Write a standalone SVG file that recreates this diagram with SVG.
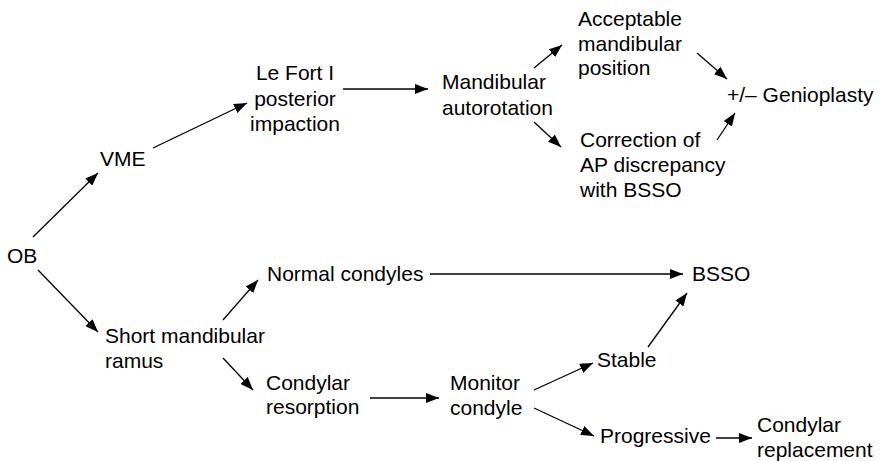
<svg xmlns="http://www.w3.org/2000/svg" width="880" height="461" viewBox="0 0 880 461">
<style>
text{font-family:"Liberation Sans",Arial,sans-serif;font-size:21px;fill:#000}
.c line{stroke:#000;stroke-width:1.3;marker-end:url(#ah)}
</style>
<defs>
<marker id="ah" markerUnits="userSpaceOnUse" viewBox="0 0 13 10" markerWidth="13" markerHeight="10" refX="13" refY="5" orient="auto">
<path d="M0,0 L13,5 L0,10 z" fill="#000"/>
</marker>
</defs>
<rect width="880" height="461" fill="#fff"/>
<g class="c" id="connectors">
<line x1="33" y1="237" x2="98" y2="173"/>
<line x1="153" y1="148" x2="247" y2="103"/>
<line x1="343" y1="89" x2="428" y2="89"/>
<line x1="534" y1="68" x2="562" y2="45"/>
<line x1="534" y1="122" x2="561" y2="147"/>
<line x1="697" y1="53" x2="727" y2="79"/>
<line x1="717" y1="140" x2="735" y2="113"/>
<line x1="38" y1="270" x2="98" y2="332"/>
<line x1="223" y1="320" x2="258" y2="280"/>
<line x1="223" y1="358" x2="253" y2="390"/>
<line x1="430" y1="274" x2="683" y2="274"/>
<line x1="370" y1="398" x2="439" y2="398"/>
<line x1="648" y1="347" x2="687" y2="293"/>
<line x1="534" y1="390" x2="593" y2="363"/>
<line x1="534" y1="408" x2="594" y2="436"/>
<line x1="716" y1="438" x2="752" y2="438"/>
</g>
<g id="ob"><text x="7" y="263">OB</text></g>
<g id="vme"><text x="100" y="166">VME</text></g>
<g id="lefort"><text text-anchor="middle"><tspan x="295" y="80">Le Fort I</tspan><tspan x="295" y="106">posterior</tspan><tspan x="295" y="131">impaction</tspan></text></g>
<g id="autorotation"><text><tspan x="442" y="89">Mandibular</tspan><tspan x="442" y="115">autorotation</tspan></text></g>
<g id="acceptable"><text><tspan x="578" y="26">Acceptable</tspan><tspan x="578" y="51">mandibular</tspan><tspan x="578" y="75">position</tspan></text></g>
<g id="correction"><text><tspan x="580" y="147">Correction of</tspan><tspan x="580" y="172">AP discrepancy</tspan><tspan x="580" y="197">with BSSO</tspan></text></g>
<g id="genioplasty"><text x="727" y="102">+/– Genioplasty</text></g>
<g id="short"><text><tspan x="105" y="343">Short mandibular</tspan><tspan x="105" y="368">ramus</tspan></text></g>
<g id="normal"><text x="267" y="281">Normal condyles</text></g>
<g id="resorption"><text><tspan x="266" y="390">Condylar</tspan><tspan x="266" y="414">resorption</tspan></text></g>
<g id="bsso"><text x="692" y="281">BSSO</text></g>
<g id="monitor"><text><tspan x="450" y="390">Monitor</tspan><tspan x="450" y="415">condyle</tspan></text></g>
<g id="stable"><text x="597" y="367">Stable</text></g>
<g id="progressive"><text x="600" y="443">Progressive</text></g>
<g id="replacement"><text><tspan x="757" y="432">Condylar</tspan><tspan x="757" y="457">replacement</tspan></text></g>
</svg>
